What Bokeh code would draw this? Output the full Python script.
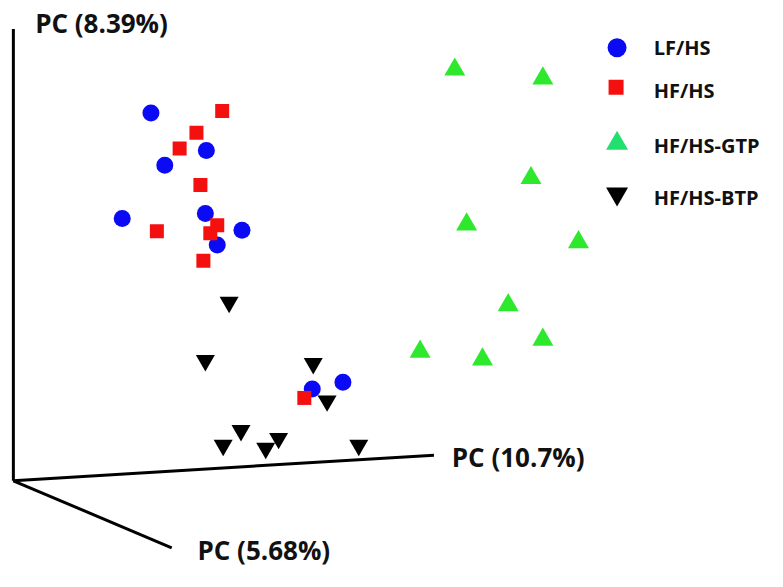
from bokeh.plotting import figure
from bokeh.models import Range1d
from bokeh.embed import file_html
from bokeh.resources import INLINE
from bokeh.core.properties import value

# Projected PCA scores (screen-projected coordinates of the 3D view)
lf_hs_x = [152, 208, 166, 123, 207, 244, 219, 315, 346]
lf_hs_y = [114, 152, 167, 221, 216, 233, 248, 394, 387]

hf_hs_x = [224, 198, 181, 202, 158, 219, 212, 205, 307]
hf_hs_y = [112, 134, 150, 187, 234, 228, 236, 264, 403]

gtp_x = [459, 548, 536, 471, 584, 513, 548, 424, 487]
gtp_y = [70, 79, 180, 227, 245, 309, 344, 356, 364]

btp_x = [231, 207, 316, 330, 243, 225, 281, 268, 362]
btp_y = [306, 365, 368, 406, 436, 451, 444, 454, 451]

# 3D axes frame (origin and axis end points in projected coordinates)
axis_origin = (13, 487)
axis_ends_x = [13, 438, 173]
axis_ends_y = [29, 461, 555]
axis_labels = ["PC (8.39%)", "PC (10.7%)", "PC (5.68%)"]
axis_label_x = [35, 456, 199]
axis_label_y = [23, 463, 557]

legend_names = ["LF/HS", "HF/HS", "HF/HS-GTP", "HF/HS-BTP"]
legend_marker_x = [623, 622, 623, 623]
legend_marker_y = [48, 88, 145, 196]
legend_text_x = [660, 660, 660, 660]
legend_text_y = [48, 91, 147, 200]

p = figure(width=767, height=571, output_backend="svg", toolbar_location=None,
           x_range=Range1d(0, 775), y_range=Range1d(579, 0), min_border=0)
p.axis.visible = False
p.grid.visible = False
p.outline_line_color = None

ox, oy = axis_origin
for ex, ey in zip(axis_ends_x, axis_ends_y):
    p.line([ox, ex], [oy, ey], line_color="black", line_width=3)

p.text(axis_label_x, axis_label_y, text=axis_labels, text_font=value("Open Sans"),
       text_font_style="bold", text_font_size="26px", text_baseline="middle",
       text_align="left", text_color="#111111")

p.scatter(lf_hs_x, lf_hs_y, marker="circle", size=17, fill_color="#0a0af5", line_color=None)
p.scatter(hf_hs_x, hf_hs_y, marker="square", size=14, fill_color="#f51010", line_color=None)
p.scatter(gtp_x, gtp_y, marker="triangle", size=21, fill_color="#2ee82e", line_color=None)
p.scatter(btp_x, btp_y, marker="inverted_triangle", size=19, fill_color="black", line_color=None)

# legend
p.scatter([legend_marker_x[0]], [legend_marker_y[0]], marker="circle", size=19, fill_color="#0a0af5", line_color=None)
p.scatter([legend_marker_x[1]], [legend_marker_y[1]], marker="square", size=15, fill_color="#f51010", line_color=None)
p.scatter([legend_marker_x[2]], [legend_marker_y[2]], marker="triangle", size=22, fill_color="#22e070", line_color=None)
p.scatter([legend_marker_x[3]], [legend_marker_y[3]], marker="inverted_triangle", size=22, fill_color="black", line_color=None)
p.text(legend_text_x, legend_text_y, text=legend_names, text_font=value("Open Sans"),
       text_font_style="bold", text_font_size="20px", text_baseline="middle",
       text_align="left", text_color="#111111")

open("out.html", "w").write(file_html(p, INLINE))
